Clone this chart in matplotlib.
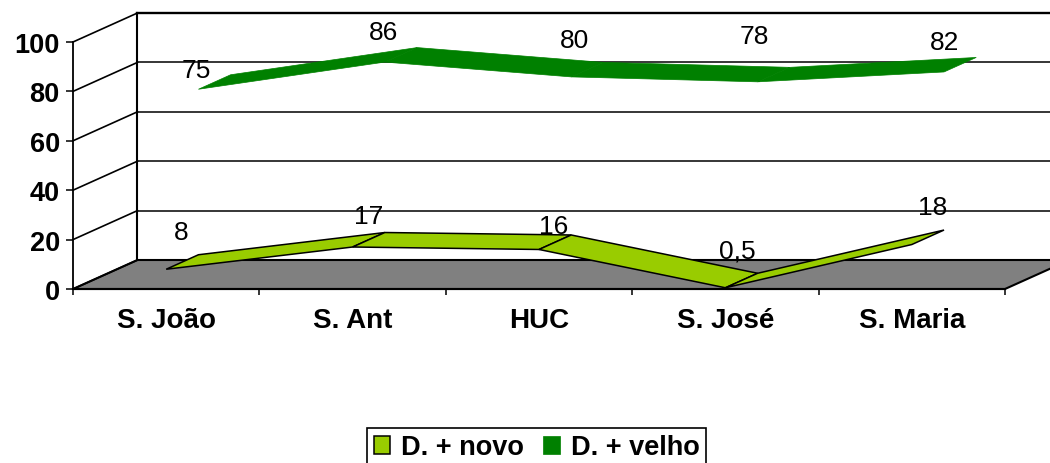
import matplotlib
matplotlib.use("Agg")
import matplotlib.pyplot as plt
from matplotlib.patches import Polygon

plt.rcParams["font.family"] = ["Liberation Sans", "DejaVu Sans"]

hospitals = ["S. João", "S. Ant", "HUC", "S. José", "S. Maria"]
novo = [8, 17, 16, 0.5, 18]
velho = [75, 86, 80, 78, 82]
novo_labels = ["8", "17", "16", "0,5", "18"]
velho_labels = ["75", "86", "80", "78", "82"]
y_ticks = [0, 20, 40, 60, 80, 100]

# how far the back wall is pushed, in data units
DEPTH_X = 64.5 / 186.5
DEPTH_Y = 29 / 2.47


def project(x, y, depth):
    return x + depth * DEPTH_X, y + depth * DEPTH_Y


def ribbon(i, values, d0, d1):
    return [project(i + 0.5, values[i], d0), project(i + 1.5, values[i + 1], d0),
            project(i + 1.5, values[i + 1], d1), project(i + 0.5, values[i], d1)]


fig = plt.figure(figsize=(10.5, 4.64), dpi=100)
ax = fig.add_axes([73 / 1050, (464 - 290) / 464, 932 / 1050, 247 / 464])
ax.set_xlim(0, 5)
ax.set_ylim(0, 100)
ax.patch.set_visible(False)

n = len(hospitals)

# floor
ax.add_patch(Polygon([project(0, 0, 0), project(n, 0, 0), project(n, 0, 1), project(0, 0, 1)],
                     facecolor="#808080", edgecolor="black", lw=1.5, clip_on=False, zorder=1))

# walls
for v in y_ticks:
    xs, ys = zip(project(0, v, 0), project(0, v, 1))
    ax.plot(xs, ys, color="black", lw=1.2, clip_on=False, zorder=2)
    xs, ys = zip(project(0, v, 1), project(n, v, 1))
    ax.plot(xs, ys, color="black", lw=1.7 if v == 100 else 1.1, clip_on=False, zorder=2)
xs, ys = zip(project(0, 0, 1), project(0, 100, 1))
ax.plot(xs, ys, color="black", lw=1.5, clip_on=False, zorder=2)

# series, back one first
for i in range(n - 1):
    ax.add_patch(Polygon(ribbon(i, velho, 0.5, 1), facecolor="#008000", edgecolor="#008000", lw=0.5,
                         clip_on=False, zorder=3, label="D. + velho" if i == 0 else None))
for i in range(n - 1):
    ax.add_patch(Polygon(ribbon(i, novo, 0, 0.5), facecolor="#99CC00", edgecolor="black", lw=1.1,
                         clip_on=False, zorder=4 + i, label="D. + novo" if i == 0 else None))

# data labels, nudged one by one like the original
novo_nudge = [(15, 37), (16.5, 31), (15, 23.5), (11.5, 37), (21, 37.5)]
velho_nudge = [(-2, 19), (-1.5, 30), (3, 37), (-3.5, 45.6), (1, 30)]
for i in range(n):
    ax.annotate(novo_labels[i], project(i + 0.5, novo[i], 0), xytext=novo_nudge[i],
                textcoords="offset pixels", ha="center", va="center", fontsize=19,
                color="black", zorder=10, annotation_clip=False)
    ax.annotate(velho_labels[i], project(i + 0.5, velho[i], 0.5), xytext=velho_nudge[i],
                textcoords="offset pixels", ha="center", va="center", fontsize=19,
                color="black", zorder=10, annotation_clip=False)

for side in ["top", "right"]:
    ax.spines[side].set_visible(False)
ax.spines["left"].set_linewidth(1.3)
ax.spines["bottom"].set_linewidth(1.5)
ax.spines["left"].set_zorder(20)
ax.spines["bottom"].set_zorder(20)

ax.set_yticks(y_ticks)
ax.set_yticklabels([str(v) for v in y_ticks], fontsize=19.5, fontweight="bold")
ax.set_xticks(range(n + 1))
ax.set_xticklabels([])
ax.set_xticks([i + 0.5 for i in range(n)], minor=True)
ax.set_xticklabels(hospitals, minor=True, fontsize=20, fontweight="bold")
ax.tick_params(axis="y", length=5, width=1.1, pad=4.5)
ax.tick_params(axis="x", which="major", length=4.5, width=1.1)
ax.tick_params(axis="x", which="minor", length=0, pad=13)

handles, labels = ax.get_legend_handles_labels()
order = [labels.index("D. + novo"), labels.index("D. + velho")]
leg = fig.legend([handles[k] for k in order], [labels[k] for k in order],
                 loc="upper center", bbox_to_anchor=(536.5 / 1050, (464 - 428.5) / 464),
                 ncol=2, fancybox=False, framealpha=1, edgecolor="black",
                 prop={"size": 19.5, "weight": "bold"}, handlelength=0.62, handleheight=0.62,
                 handletextpad=0.4, columnspacing=0.7, borderpad=0.25, borderaxespad=0)
leg.get_frame().set_linewidth(1.2)

fig.savefig("out.png", dpi=100)
